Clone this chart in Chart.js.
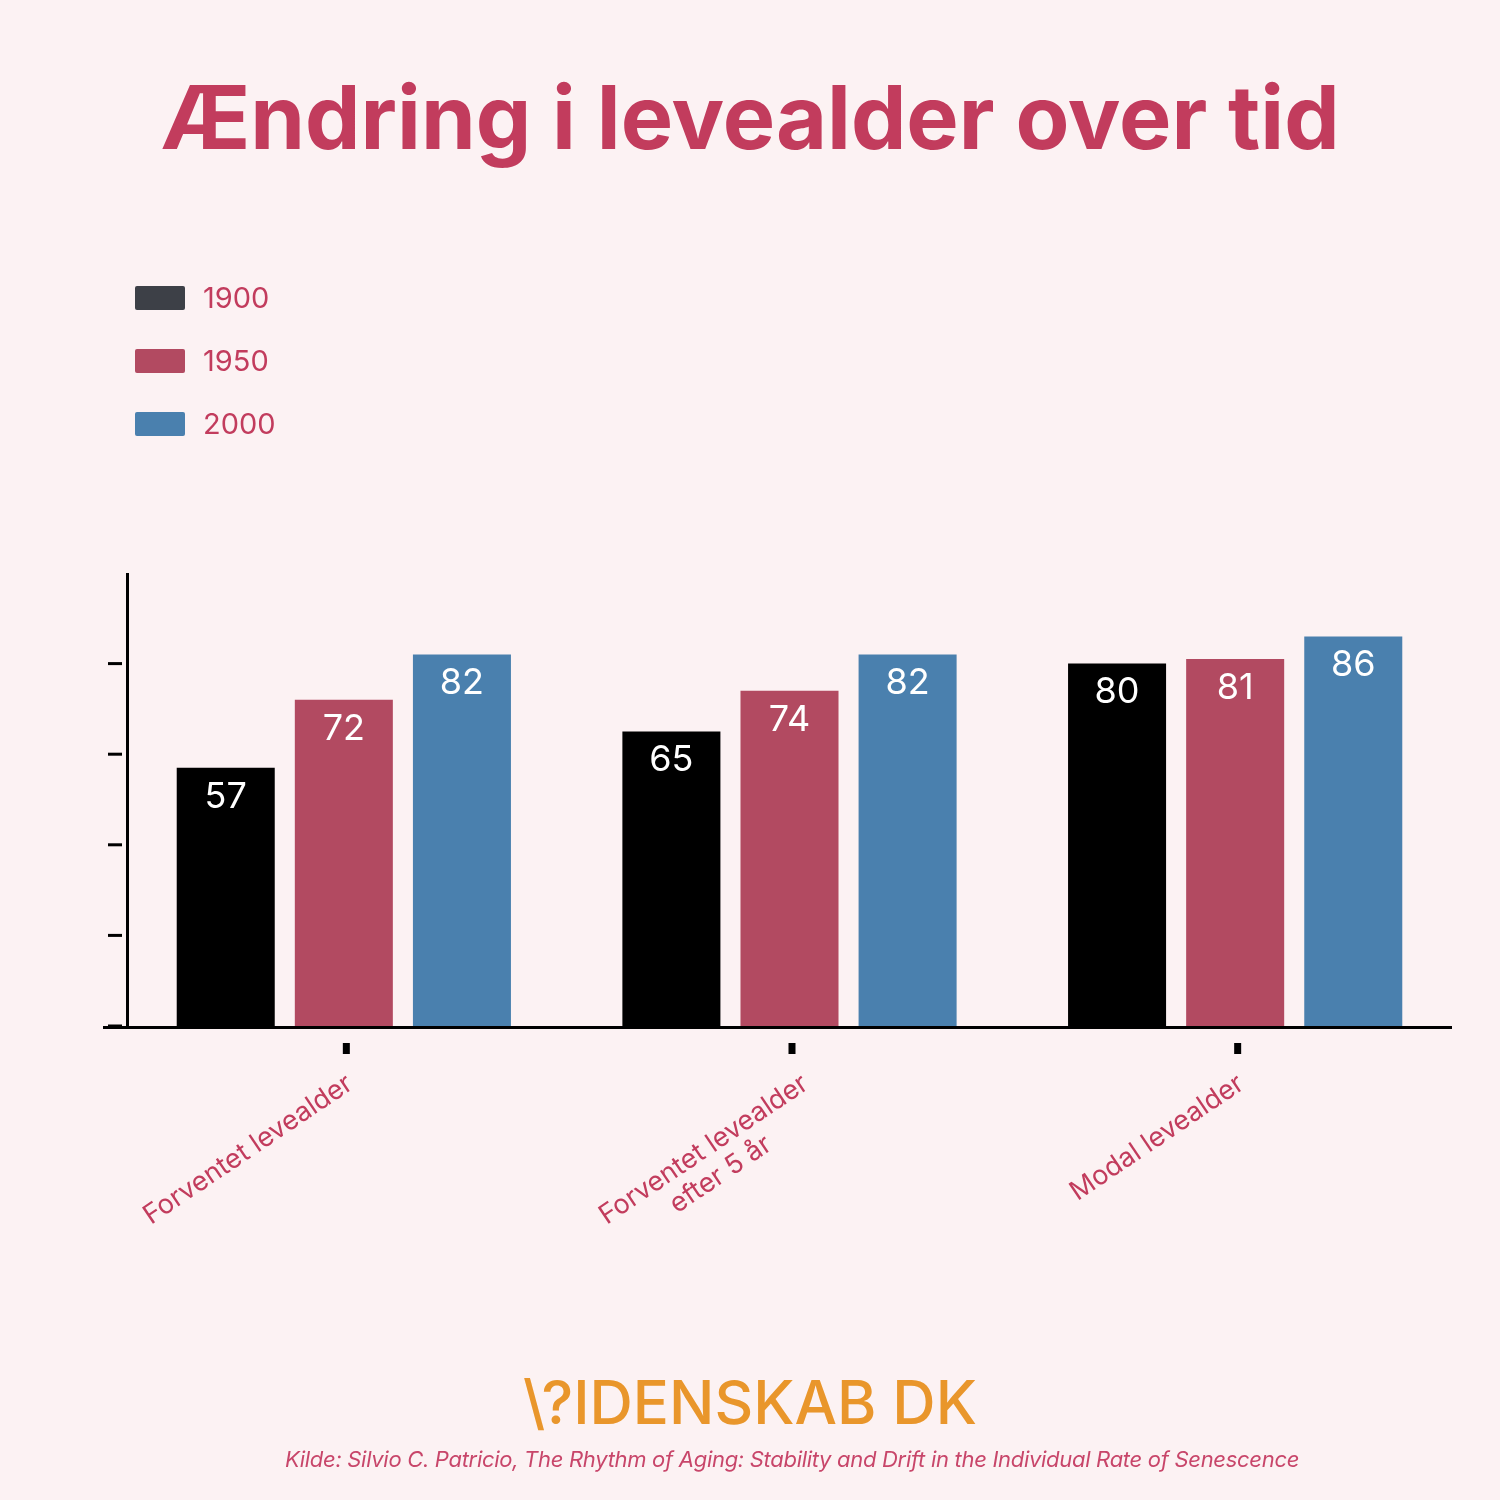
<!DOCTYPE html>
<html>
<head>
<meta charset="utf-8">
<script src="https://cdn.jsdelivr.net/npm/chart.js@4/dist/chart.umd.min.js"></script>
<style>
  html, body { margin: 0; padding: 0; background: #fcf2f3; }
  #wrap { position: relative; width: 1500px; height: 1500px; overflow: hidden; }
  #chart { position: absolute; left: 0; top: 0; }
  #title { position: absolute; left: 0; width: 1500px; top: 64px; text-align: center;
    font-family: 'Inter', sans-serif; font-weight: 700; font-size: 88px; color: #c23c5d; letter-spacing: 0px; }
  #legend { position: absolute; left: 135px; top: 266px; font-family: 'Inter', sans-serif; }
  .item { display: flex; align-items: center; height: 63px; }
  .box { width: 50px; height: 24px; border-radius: 2px; margin-right: 18px; }
  .lbl { font-size: 29px; color: #c23c5d; }
  #logo { position: absolute; left: 0; width: 1500px; top: 1366px; text-align: center;
    font-family: 'Inter', sans-serif; font-weight: 500; font-size: 60px; color: #e9962b; letter-spacing: 0px; }
  #source { position: absolute; left: 84px; width: 1416px; top: 1446px; text-align: center;
    font-family: 'Inter', sans-serif; font-style: italic; font-size: 22px; color: #c8466a; letter-spacing: -0.3px; }
</style>
</head>
<body>
<div id="wrap">
  <canvas id="chart" width="1500" height="1500"></canvas>
  <div id="title">Ændring i levealder over tid</div>
  <div id="legend"></div>
  <div id="logo">\?IDENSKAB DK</div>
  <div id="source">Kilde: Silvio C. Patricio, The Rhythm of Aging: Stability and Drift in the Individual Rate of Senescence</div>
</div>
<script>
const categories = [['Forventet levealder'], ['Forventet levealder', 'efter 5 år'], ['Modal levealder']];
const years = ['1900', '1950', '2000'];
const values1900 = [57, 65, 80];
const values1950 = [72, 74, 81];
const values2000 = [82, 82, 86];
const barColors = ['#000000', '#b24a61', '#4a80ae'];
const legendColors = ['#3d4047', '#b24a61', '#4a80ae'];
const yTicks = [0, 20, 40, 60, 80];

// html legend
const legendEl = document.getElementById('legend');
years.forEach(function(y, i) {
    const item = document.createElement('div');
    item.className = 'item';
    item.innerHTML = '<div class="box" style="background:' + legendColors[i] + '"></div><div class="lbl">' + y + '</div>';
    legendEl.appendChild(item);
});

const decor = {
    id: 'decor',
    afterDatasetsDraw(chart) {
        const ctx = chart.ctx;
        const area = chart.chartArea;
        const xs = chart.scales.x;
        const ys = chart.scales.y;
        ctx.save();
        ctx.fillStyle = '#000';
        // axes
        ctx.fillRect(area.left + 5, area.top, 3, area.bottom - area.top + 2);
        ctx.fillRect(area.left - 18, area.bottom, area.right - area.left + 12, 3);
        // y tick marks
        yTicks.forEach(function(v) {
            const py = ys.getPixelForValue(v);
            ctx.fillRect(area.left - 13, py - 1.5, 14, 3);
        });
        // x tick marks and labels
        categories.forEach(function(lines, i) {
            const px = xs.getPixelForValue(i);
            ctx.fillStyle = '#000';
            ctx.fillRect(px - 1, area.bottom + 17, 7, 11);
            ctx.save();
            ctx.font = '27px Inter, sans-serif';
            ctx.fillStyle = '#c23c5d';
            ctx.translate(px + 6 + (lines.length - 1) * 10, area.bottom + 55);
            ctx.rotate(-34 * Math.PI / 180);
            ctx.textAlign = 'center';
            ctx.textBaseline = 'middle';
            const maxW = Math.max.apply(null, lines.map(function(l) { return ctx.measureText(l).width; }));
            lines.forEach(function(l, j) {
                ctx.fillText(l, -maxW / 2, j * 30);
            });
            ctx.restore();
        });
        // value labels
        ctx.font = '36px Inter, sans-serif';
        ctx.fillStyle = '#fff';
        ctx.textAlign = 'center';
        ctx.textBaseline = 'middle';
        chart.data.datasets.forEach(function(ds, di) {
            chart.getDatasetMeta(di).data.forEach(function(bar, i) {
                ctx.fillText(String(ds.data[i]), bar.x, bar.y + 29);
            });
        });
        ctx.restore();
    }
};

new Chart(document.getElementById('chart').getContext('2d'), {
    type: 'bar',
    data: {
        labels: categories,
        datasets: [
            { label: years[0], data: values1900, backgroundColor: barColors[0] },
            { label: years[1], data: values1950, backgroundColor: barColors[1] },
            { label: years[2], data: values2000, backgroundColor: barColors[2] }
        ]
    },
    options: {
        responsive: false,
        animation: false,
        events: [],
        datasets: { bar: { categoryPercentage: 0.795, barPercentage: 0.83 } },
        layout: { padding: { left: 0, top: 573, right: 42, bottom: 474 } },
        plugins: { legend: { display: false }, tooltip: { enabled: false } },
        scales: {
            x: {
                grid: { display: false }, border: { display: false },
                ticks: { display: false },
                afterFit: function(s) { s.height = 0; }
            },
            y: {
                min: 0, max: 100,
                grid: { display: false }, border: { display: false },
                ticks: { display: false, stepSize: 20 },
                afterFit: function(s) { s.width = 121; }
            }
        }
    },
    plugins: [decor]
});
</script>
</body>
</html>
